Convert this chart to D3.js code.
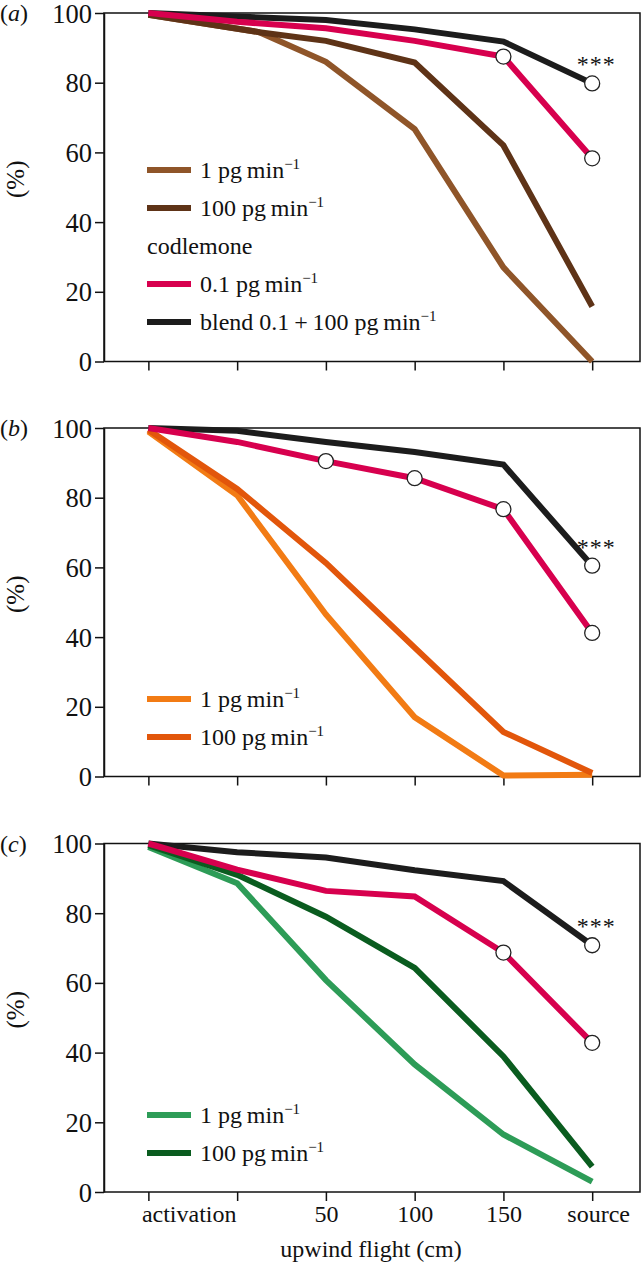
<!DOCTYPE html>
<html>
<head>
<meta charset="utf-8">
<script src="https://cdn.jsdelivr.net/npm/d3@7"></script>
<style>
  html, body { margin: 0; padding: 0; background: #fff; }
  svg { display: block; }
  text { font-family: "Liberation Serif", "Times New Roman", Times, serif; fill: #111; }
</style>
</head>
<body>
<svg id="chart" width="642" height="1266"></svg>
<script>
// ---------- data ----------
const categories = ["activation", "", "50", "100", "150", "source"];
const yTicks = [0, 20, 40, 60, 80, 100];
const xIndex = [0, 1, 2, 3, 4, 5];
const xIndexBrownA = [0, 1.25, 2, 3, 4, 5];

// panel (a) – brown series
const a_1pg   = [99.5, 94.5, 86, 66.7, 27, 0];
const a_100pg = [99.5, 94.5, 92, 85.8, 62, 15.8];
const a_codl  = [100, 97.5, 95.6, 92, 87.5, 58.3];
const a_blend = [100, 99, 98, 95.3, 91.8, 79.8];
const a_codlMarks  = [4, 5];
const a_blendMarks = [5];

// panel (b) – orange series
const b_1pg   = [99, 80.7, 46.5, 17, 0.3, 0.5];
const b_100pg = [99.5, 82.5, 61.3, 37, 12.8, 1];
const b_codl  = [100, 96, 90.5, 85.6, 76.7, 41.2];
const b_blend = [100, 99.2, 96, 93.1, 89.5, 60.5];
const b_codlMarks  = [2, 3, 4, 5];
const b_blendMarks = [5];

// panel (c) – green series
const c_1pg   = [99, 88.6, 60.8, 36.6, 16.5, 3];
const c_100pg = [99.5, 91, 79, 64.3, 38.9, 7.3];
const c_codl  = [100, 92.5, 86.4, 84.8, 68.7, 42.8];
const c_blend = [100, 97.5, 96, 92.3, 89.2, 70.8];
const c_codlMarks  = [4, 5];
const c_blendMarks = [5];

const legendA = [
  {label: "1 pg\u2009min", sup: "−1", key: "s1"},
  {label: "100 pg\u2009min", sup: "−1", key: "s100"},
  {label: "codlemone", sup: null, key: null},
  {label: "0.1 pg\u2009min", sup: "−1", key: "codl"},
  {label: "blend 0.1\u2009+\u2009100 pg\u2009min", sup: "−1", key: "blend"}
];
const legendBC = [
  {label: "1 pg\u2009min", sup: "−1", key: "s1"},
  {label: "100 pg\u2009min", sup: "−1", key: "s100"}
];

// ---------- styles ----------
const colors = {
  a: {s1: "#8f5529", s100: "#5e3317"},
  b: {s1: "#f27b14", s100: "#e2560b"},
  c: {s1: "#2d9c57", s100: "#0a5c1f"},
  codl: "#d7004e",
  blend: "#1c1c1c"
};

const panels = [
  {id: "a", top: 13, s1: a_1pg, s100: a_100pg, codl: a_codl, blend: a_blend,
   sx: xIndexBrownA, cm: a_codlMarks, bm: a_blendMarks, legend: legendA, legendTop: 170},
  {id: "b", top: 428, s1: b_1pg, s100: b_100pg, codl: b_codl, blend: b_blend,
   sx: xIndex, cm: b_codlMarks, bm: b_blendMarks, legend: legendBC, legendTop: 699},
  {id: "c", top: 843.5, s1: c_1pg, s100: c_100pg, codl: c_codl, blend: c_blend,
   sx: xIndex, cm: c_codlMarks, bm: c_blendMarks, legend: legendBC, legendTop: 1115}
];

const svg = d3.select("#chart");
const left = 104, right = 641, plotH = 348.5;
const x = d3.scaleLinear().domain([-0.5, 5.55]).range([left, right]);
const fontSize = 24;
const FF = '"Liberation Serif", "Times New Roman", Times, serif';

panels.forEach((p, pi) => {
  const y = d3.scaleLinear().domain([0, 100]).range([p.top + plotH, p.top]);
  const g = svg.append("g");

  // frame
  g.append("rect")
    .attr("x", left).attr("y", p.top)
    .attr("width", right - left - 1).attr("height", plotH)
    .attr("fill", "none").attr("stroke", "#111").attr("stroke-width", 1.5);

  // y axis
  const ya = g.append("g").attr("transform", `translate(${left},0)`)
    .call(d3.axisLeft(y).tickValues(yTicks).tickSize(9).tickSizeOuter(0).tickPadding(3));
  ya.select(".domain").attr("stroke", "#111").attr("stroke-width", 1.5);
  ya.selectAll(".tick line").attr("stroke", "#111").attr("stroke-width", 1.5);
  ya.selectAll(".tick text")
    .style("font-family", FF)
    .style("font-size", "26.5px")
    .attr("fill", "#111").attr("dy", "0.34em");

  // x axis
  const xa = g.append("g").attr("transform", `translate(0,${p.top + plotH})`)
    .call(d3.axisBottom(x).tickValues(xIndex).tickSize(9).tickSizeOuter(0)
      .tickFormat(i => pi === 2 ? categories[i] : ""));
  xa.select(".domain").remove();
  xa.selectAll(".tick line").attr("stroke", "#111").attr("stroke-width", 1.5);
  xa.selectAll(".tick text")
    .style("font-family", FF)
    .style("font-size", fontSize + "px")
    .attr("fill", "#111").attr("y", 13).attr("dy", "0.71em");
  if (pi === 2) {
    // "activation" label spans the first two ticks
    xa.selectAll(".tick text").filter(i => i === 0)
      .attr("text-anchor", "start").attr("x", -7);
    xa.selectAll(".tick text").filter(i => i === 5).attr("x", 6);
  }

  // y label
  g.append("text")
    .attr("transform", `translate(24,${p.top + plotH / 2 - 8}) rotate(-90)`)
    .attr("text-anchor", "middle")
    .style("font-size", "25px")
    .text("(%)");

  // panel label
  const pl = g.append("text").attr("x", 0).attr("y", p.top + 8)
    .style("font-size", fontSize + "px");
  pl.append("tspan").text("(");
  pl.append("tspan").style("font-style", "italic").text(p.id);
  pl.append("tspan").text(")");

  // lines
  const series = [
    {vals: p.s1, xs: p.sx, color: colors[p.id].s1},
    {vals: p.s100, xs: p.sx, color: colors[p.id].s100},
    {vals: p.blend, xs: xIndex, color: colors.blend},
    {vals: p.codl, xs: xIndex, color: colors.codl}
  ];
  const line = d3.line().x(d => x(d[0])).y(d => y(d[1]));
  series.forEach(s => {
    g.append("path")
      .datum(s.vals.map((v, i) => [s.xs[i], v]))
      .attr("d", line)
      .attr("fill", "none")
      .attr("stroke", s.color)
      .attr("stroke-width", 6)
      .attr("stroke-linejoin", "miter")
      .attr("stroke-linecap", "butt");
  });

  // markers
  const marks = p.cm.map(i => [i, p.codl[i]]).concat(p.bm.map(i => [i, p.blend[i]]));
  g.selectAll("circle.m").data(marks).enter().append("circle")
    .attr("cx", d => x(d[0])).attr("cy", d => y(d[1])).attr("r", 7.5)
    .attr("fill", "#fff").attr("stroke", "#222").attr("stroke-width", 1.3);

  // significance
  p.bm.forEach(i => {
    g.append("text")
      .attr("x", x(i) + 4).attr("y", y(p.blend[i]) - 11)
      .attr("text-anchor", "middle")
      .style("font-size", "24px").style("letter-spacing", "1px")
      .text("***");
  });

  // legend
  const rowH = 38;
  p.legend.forEach((L, li) => {
    const cy = p.legendTop + li * rowH;
    if (L.key) {
      const col = (L.key === "codl" || L.key === "blend") ? colors[L.key] : colors[p.id][L.key];
      g.append("line")
        .attr("x1", 147).attr("x2", 191).attr("y1", cy).attr("y2", cy)
        .attr("stroke", col).attr("stroke-width", 6);
    }
    const t = g.append("text")
      .attr("x", L.key ? 200 : 147).attr("y", cy + 8)
      .style("font-size", fontSize + "px");
    t.append("tspan").text(L.label);
    if (L.sup) {
      t.append("tspan").attr("dy", -9).style("font-size", "15px").text(L.sup);
    }
  });
});

// x axis title
svg.append("text")
  .attr("x", 371).attr("y", 1257)
  .attr("text-anchor", "middle")
  .style("font-size", fontSize + "px")
  .text("upwind flight (cm)");
</script>
</body>
</html>
